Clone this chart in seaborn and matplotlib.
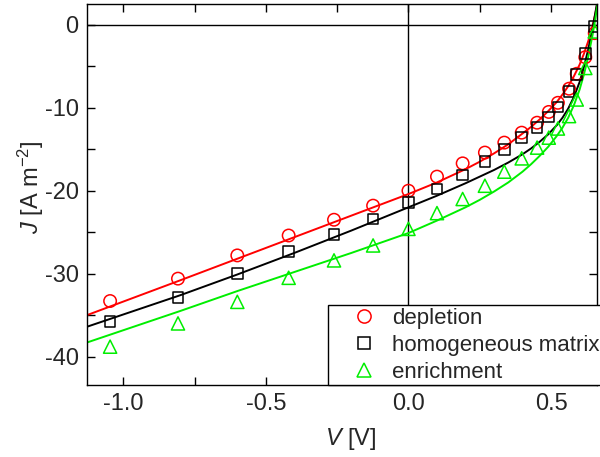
import numpy as np
import pandas as pd
import matplotlib
matplotlib.use("Agg")
import matplotlib.pyplot as plt
from matplotlib.lines import Line2D
from matplotlib.ticker import MultipleLocator
import seaborn as sns

# ---- data ----
V_meas = [-1.046, -0.808, -0.60, -0.42, -0.261, -0.124, 0.0, 0.10, 0.19, 0.268,
          0.336, 0.397, 0.451, 0.492, 0.524, 0.563, 0.59, 0.62, 0.653]
J_depletion = [-33.3, -30.6, -27.8, -25.4, -23.5, -21.8, -20.0, -18.3, -16.7, -15.4,
               -14.2, -13.0, -11.8, -10.5, -9.4, -7.7, -5.9, -3.9, -1.0]
J_homogeneous = [-35.8, -32.9, -30.0, -27.3, -25.3, -23.4, -21.4, -19.8, -18.1, -16.5,
                 -15.0, -13.6, -12.4, -11.1, -9.9, -8.0, -6.0, -3.5, -0.2]
J_enrichment = [-38.8, -36.0, -33.4, -30.5, -28.4, -26.6, -24.6, -22.7, -21.0, -19.4,
                -17.7, -16.1, -14.8, -13.6, -12.5, -11.0, -9.0, -5.2, -0.8]

V_fit = [-1.127, -0.8, -0.6, -0.4, -0.2, 0.0, 0.1, 0.2, 0.25, 0.3, 0.35, 0.4, 0.43,
         0.46, 0.49, 0.52, 0.54, 0.56, 0.58, 0.6, 0.615, 0.63, 0.645, 0.655, 0.665]
J_fit_depletion = [-35.0, -30.8, -28.2, -25.6, -23.0, -20.4, -19.0, -17.4, -16.5, -15.5,
                   -14.4, -13.1, -12.3, -11.4, -10.4, -9.3, -8.4, -7.4, -6.2, -4.8,
                   -3.5, -2.0, -0.2, 1.3, 3.0]
J_fit_homogeneous = [-36.4, -32.6, -30.1, -27.5, -24.8, -22.0, -20.6, -19.1, -18.3, -17.5,
                     -16.6, -15.6, -14.9, -14.1, -13.2, -12.1, -11.2, -10.1, -8.7, -6.9,
                     -5.1, -3.0, -0.5, 1.4, 3.4]
J_fit_enrichment = [-38.3, -34.5, -32.1, -29.8, -27.5, -25.1, -23.6, -22.0, -21.1, -20.1,
                    -19.0, -17.7, -16.8, -15.8, -14.7, -13.4, -12.4, -11.2, -9.7, -7.8,
                    -6.0, -3.9, -1.3, 0.7, 3.0]

labels = ["depletion", "homogeneous matrix", "enrichment"]
colors = ["#ff0000", "#000000", "#00ee00"]
markers = ["o", "s", "^"]

x_ticks = [-1.0, -0.5, 0.0, 0.5]
y_ticks = [0, -10, -20, -30, -40]

# ---- plotting ----
sns.set_theme(style="ticks")
plt.rcParams["font.family"] = ["Liberation Sans", "DejaVu Sans"]
plt.rcParams["mathtext.fontset"] = "custom"
plt.rcParams["mathtext.it"] = "Liberation Sans:italic"
plt.rcParams["mathtext.rm"] = "Liberation Sans"

fig = plt.figure(figsize=(6.0, 4.57), dpi=100)
ax = fig.add_axes([0.145, 0.158, 0.850, 0.833])

ax.axhline(0, color="black", lw=1.0, zorder=1)
ax.axvline(0, color="black", lw=1.0, zorder=1)

fits = [J_fit_depletion, J_fit_homogeneous, J_fit_enrichment]
meas = [J_depletion, J_homogeneous, J_enrichment]
sizes = [80, 60, 90]
for lab, col, mk, jf, jm, s in zip(labels, colors, markers, fits, meas, sizes):
    df_fit = pd.DataFrame({"V": V_fit, "J": jf})
    sns.lineplot(data=df_fit, x="V", y="J", color=col, lw=1.4, ax=ax,
                 sort=False, estimator=None, zorder=2)
    df_m = pd.DataFrame({"V": V_meas, "J": jm})
    sns.scatterplot(data=df_m, x="V", y="J", marker=mk, s=s, facecolors="none",
                    edgecolor=col, linewidth=1.1, ax=ax, zorder=3)

ax.set_xlim(-1.127, 0.661)
ax.set_ylim(-43.4, 2.5)
ax.set_xticks(x_ticks)
ax.set_xticklabels(["-1.0", "-0.5", "0.0", "0.5"])
ax.set_yticks(y_ticks)
ax.set_yticklabels(["0", "-10", "-20", "-30", "-40"])
ax.xaxis.set_minor_locator(MultipleLocator(0.25))
ax.yaxis.set_minor_locator(MultipleLocator(5))
ax.tick_params(which="both", direction="in", top=True, right=True,
               length=6, width=1.0, color="black", labelsize=17, pad=6)
for sp in ax.spines.values():
    sp.set_linewidth(1.0)
    sp.set_color("black")

ax.set_xlabel(r"$\mathit{V}$ [V]", fontsize=17)
ax.set_ylabel(r"$\mathit{J}$ [A m$^{-2}$]", fontsize=17)
ax.xaxis.set_label_coords(0.518, -0.108)
ax.yaxis.set_label_coords(-0.08, 0.52)

handles = [Line2D([], [], ls="none", marker=mk, markersize=ms, markerfacecolor="none",
                  markeredgecolor=col, markeredgewidth=1.1)
           for mk, col, ms in zip(markers, colors, [9.5, 8, 10.5])]
leg = ax.legend(handles, labels, loc="lower left", bbox_to_anchor=(0.4725, 0.0),
                borderaxespad=0, frameon=True, fancybox=False, framealpha=1,
                edgecolor="black", fontsize=16, handletextpad=-0.2,
                labelspacing=0.27, borderpad=0.1, handlelength=3.0)
leg.get_frame().set_linewidth(1.0)

fig.savefig("out.png", dpi=100)
